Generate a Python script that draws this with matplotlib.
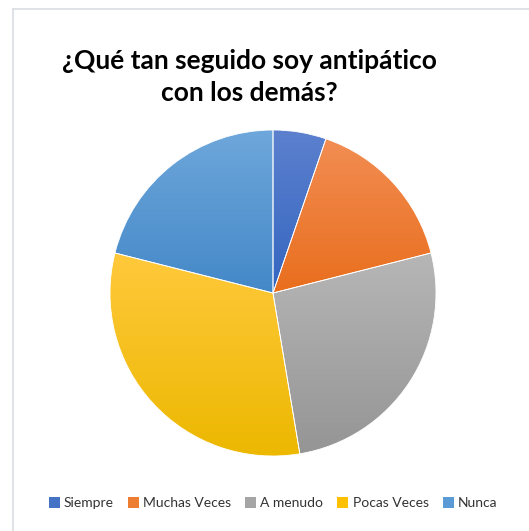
import numpy as np
import matplotlib
matplotlib.use("Agg")
import matplotlib.pyplot as plt
from matplotlib.patches import Patch
from matplotlib.lines import Line2D
from matplotlib.colors import LinearSegmentedColormap

plt.rcParams["font.family"] = ["Lato", "DejaVu Sans"]

# survey answers
categories = ["Siempre", "Muchas Veces", "A menudo", "Pocas Veces", "Nunca"]
counts = [1, 3, 5, 6, 4]

base_colors = ["#4472C4", "#ED7D31", "#A5A5A5", "#FFC000", "#5B9BD5"]
top_colors = ["#5C80CE", "#F28D53", "#B6B6B6", "#FFC93C", "#6EA7DB"]
bottom_colors = ["#3466C0", "#E96E1D", "#959595", "#ECB800", "#4488C8"]

W, H = 529, 531
fig = plt.figure(figsize=(W / 100, H / 100), dpi=100)

# pie axes: centre (273, 293) px, radius 163 px
cx, cy, r = 273, 293, 163
ax = fig.add_axes([(cx - r) / W, 1 - (cy + r) / H, 2 * r / W, 2 * r / H])
wedges, _ = ax.pie(counts, startangle=90, counterclock=False,
                   colors=base_colors, radius=1,
                   wedgeprops=dict(edgecolor="white", linewidth=0.6))

# vertical gradient inside each slice
for w, top, bot in zip(wedges, top_colors, bottom_colors):
    th = np.linspace(np.radians(w.theta1), np.radians(w.theta2), 200)
    xs = np.concatenate([[0], np.cos(th)])
    ys = np.concatenate([[0], np.sin(th)])
    cmap = LinearSegmentedColormap.from_list("g", [bot, top])
    grad = np.linspace(0, 1, 256).reshape(-1, 1)
    im = ax.imshow(grad, cmap=cmap, origin="lower", aspect="auto",
                   extent=[xs.min(), xs.max(), ys.min(), ys.max()], zorder=1)
    im.set_clip_path(w)
    w.set_facecolor("none")
    w.set_zorder(2)

ax.set_xlim(-1, 1)
ax.set_ylim(-1, 1)
ax.set_aspect("equal")
ax.axis("off")

fig.text(249 / W, 1 - 77 / H, "¿Qué tan seguido soy antipático\ncon los demás?",
         ha="center", va="center", fontsize=19, fontweight="bold",
         linespacing=1.4, color="#000000")

handles = [Patch(facecolor=c, edgecolor="none") for c in base_colors]
fig.legend(handles, categories, loc="center", bbox_to_anchor=(273 / W, 1 - 503 / H),
           ncol=5, frameon=False, fontsize=10, handlelength=0.8,
           handleheight=0.9, handletextpad=0.3, columnspacing=1.0,
           labelcolor="#333333")

# chart area border (left and top edges)
fx, fy = 12.5 / W, 1 - 8.5 / H
fig.add_artist(Line2D([fx, fx], [0, fy], color="#D9DEE4", lw=1.2))
fig.add_artist(Line2D([fx, 1], [fy, fy], color="#D9DEE4", lw=1.2))

fig.savefig("out.png", dpi=100, facecolor="white")
